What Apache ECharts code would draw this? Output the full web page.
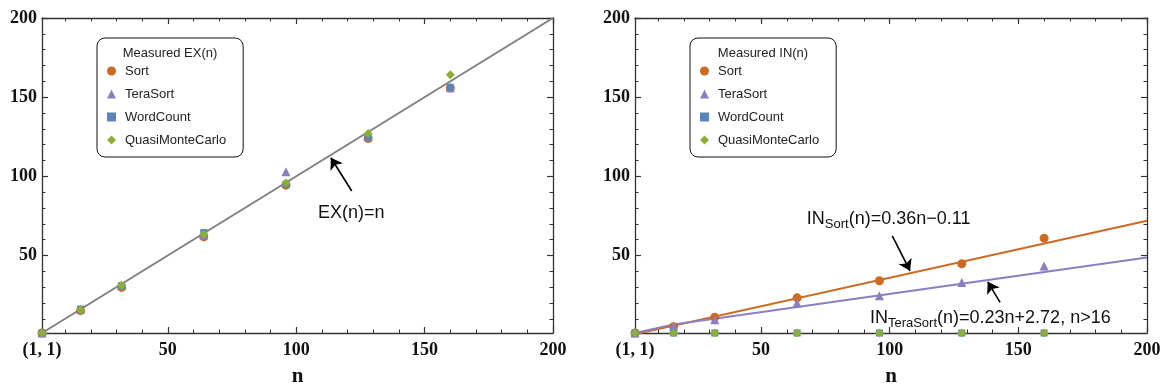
<!DOCTYPE html>
<html>
<head>
<meta charset="utf-8">
<script src="https://cdn.jsdelivr.net/npm/echarts@6/dist/echarts.min.js"></script>
<style>
html,body{margin:0;padding:0;background:#fff;}
#main{width:1166px;height:392px;}
</style>
</head>
<body>
<div id="main"></div>
<script>
// ---- data ----
const nVals = [1, 16, 32, 64, 96, 128, 160];
const seriesNames = ['Sort', 'TeraSort', 'WordCount', 'QuasiMonteCarlo'];
// Measured EX(n)
const exSort = [1, 15.1, 29.8, 61.7, 94.4, 123.9, 155.8];
const exTera = [1, 16.0, 31.0, 63.0, 102.9, 125.0, 156.0];
const exWord = [1, 16.1, 31.0, 64.5, 95.0, 124.9, 156.2];
const exQuasi = [1, 15.6, 31.2, 63.4, 95.7, 127.0, 164.2];
// Measured IN(n)
const inSort = [1, 5.0, 10.9, 23.2, 34.0, 44.7, 60.9];
const inTera = [1, 5.2, 9.4, 19.9, 24.5, 32.9, 43.4];
const inWord = [1, 1, 1, 1, 1, 1, 1];
const inQuasi = [1, 1, 1, 1, 1, 1, 1];
// fitted lines (endpoints)
const exLine = [[1, 1], [200, 200]];
const inSortFit = [[1, 0.25], [200, 71.89]];
const inTeraFit = [[1, 1], [16, 6.4], [200, 48.72]];
// tick values
const majorTicks = [50, 100, 150, 200];
const xLabelVals = [1, 50, 100, 150, 200];
const minorTicks = [10, 20, 30, 40, 60, 70, 80, 90, 110, 120, 130, 140, 160, 170, 180, 190];
// annotation arrows & labels (data coords)
const exArrow = [[121.6, 90.7], [113.5, 111.7]];
const inSortArrow = [[101, 62.3], [107.9, 40.3]];
const inTeraArrow = [[142.9, 20.3], [138.1, 33.3]];
const exLabelPos = [108.5, 78];
const inSortLabelPos = [67.8, 74.3];
const inTeraLabelPos = [92.3, 11.9];

const colors = {Sort: '#CD6A22', TeraSort: '#8C7EC0', WordCount: '#5B84BA', QuasiMonteCarlo: '#8CB036'};
const symbols = {Sort: 'circle', TeraSort: 'triangle', WordCount: 'rect', QuasiMonteCarlo: 'diamond'};
const sizes = {Sort: 9, TeraSort: 9, WordCount: 7, QuasiMonteCarlo: 9};

const serif = '"Liberation Serif", "Times New Roman", serif';
const sans = '"Liberation Sans", Arial, sans-serif';
const frameColor = '#333';

const chart = echarts.init(document.getElementById('main'));

function makeAxes(g) {
  const base = {type: 'value', gridIndex: g, min: 1, max: 200, splitLine: {show: false}};
  const line = {show: true, lineStyle: {color: frameColor, width: 1.3}};
  const xs = [
    Object.assign({}, base, {
      position: 'bottom', axisLine: line,
      axisTick: {show: true, inside: true, length: 6, customValues: majorTicks, lineStyle: {color: frameColor, width: 1.2}},
      axisLabel: {show: true, customValues: xLabelVals, margin: 8, fontFamily: serif, fontWeight: 'bold', fontSize: 18, color: '#111',
        formatter: v => v === 1 ? '(1, 1)' : String(v)},
      name: 'n', nameLocation: 'middle', nameGap: 33,
      nameTextStyle: {fontFamily: serif, fontWeight: 'bold', fontSize: 21, color: '#111'}
    }),
    Object.assign({}, base, {
      position: 'bottom', axisLine: {show: false},
      axisTick: {show: true, inside: true, length: 3.5, customValues: minorTicks, lineStyle: {color: frameColor, width: 1}},
      axisLabel: {show: false}
    }),
    Object.assign({}, base, {
      position: 'top', axisLine: line,
      axisTick: {show: true, inside: true, length: 6, customValues: majorTicks, lineStyle: {color: frameColor, width: 1.2}},
      axisLabel: {show: false}
    }),
    Object.assign({}, base, {
      position: 'top', axisLine: {show: false},
      axisTick: {show: true, inside: true, length: 3.5, customValues: minorTicks, lineStyle: {color: frameColor, width: 1}},
      axisLabel: {show: false}
    })
  ];
  const ys = [
    Object.assign({}, base, {
      position: 'left', axisLine: line,
      axisTick: {show: true, inside: true, length: 6, customValues: majorTicks, lineStyle: {color: frameColor, width: 1.2}},
      axisLabel: {show: true, customValues: majorTicks, margin: 5, fontFamily: serif, fontWeight: 'bold', fontSize: 18, color: '#111'}
    }),
    Object.assign({}, base, {
      position: 'left', axisLine: {show: false},
      axisTick: {show: true, inside: true, length: 3.5, customValues: minorTicks, lineStyle: {color: frameColor, width: 1}},
      axisLabel: {show: false}
    }),
    Object.assign({}, base, {
      position: 'right', axisLine: line,
      axisTick: {show: true, inside: true, length: 6, customValues: majorTicks, lineStyle: {color: frameColor, width: 1.2}},
      axisLabel: {show: false}
    }),
    Object.assign({}, base, {
      position: 'right', axisLine: {show: false},
      axisTick: {show: true, inside: true, length: 3.5, customValues: minorTicks, lineStyle: {color: frameColor, width: 1}},
      axisLabel: {show: false}
    })
  ];
  return {xs, ys};
}

const a0 = makeAxes(0), a1 = makeAxes(1);

function pts(vals) { return nVals.map((n, i) => [n, vals[i]]); }

function scatter(name, vals, g) {
  return {
    type: 'scatter', name: name, xAxisIndex: g * 4, yAxisIndex: g * 4,
    data: pts(vals), symbol: symbols[name], symbolSize: sizes[name],
    itemStyle: {color: colors[name], opacity: 1}, z: 5, silent: true
  };
}

function arrow(a) {
  return {
    silent: true, symbol: ['none', 'arrow'], symbolSize: 11,
    lineStyle: {color: '#000', width: 1.6, type: 'solid'},
    itemStyle: {color: '#000'},
    label: {show: false},
    emphasis: {disabled: true},
    data: [[{coord: a[0], symbol: 'none'}, {coord: a[1], symbol: 'arrow', symbolSize: 11}]]
  };
}

function textMark(pos, text, rich) {
  return {
    silent: true, symbol: 'circle', symbolSize: 0,
    data: [{coord: pos, value: 0}],
    label: {show: true, position: 'right', distance: 0, formatter: text, rich: rich,
      fontFamily: sans, fontSize: 18, color: '#111'}
  };
}

const rich = {
  m: {fontFamily: sans, fontSize: 18, color: '#111', lineHeight: 22, verticalAlign: 'bottom'},
  s: {fontFamily: sans, fontSize: 13, color: '#111', lineHeight: 22, verticalAlign: 'bottom', padding: [0, 0, -3, 0]}
};

function legend(left, top) {
  return {
    left: left, top: top, orient: 'vertical',
    padding: [25, 17, 9, 10], itemGap: 7, itemWidth: 9, itemHeight: 9,
    borderColor: '#111', borderWidth: 1, borderRadius: 8, backgroundColor: '#fff',
    textStyle: {fontFamily: sans, fontSize: 13, color: '#222', lineHeight: 16, padding: [0, 0, 0, 4]},
    data: seriesNames.map(n => ({name: n, icon: symbols[n]})),
    selectedMode: false
  };
}

const option = {
  backgroundColor: '#fff',
  animation: false,
  grid: [
    {left: 42, top: 18, width: 511, height: 316},
    {left: 635, top: 18, width: 512, height: 316}
  ],
  xAxis: a0.xs.concat(a1.xs),
  yAxis: a0.ys.concat(a1.ys),
  title: [
    {text: 'Measured EX(n)', left: 170, top: 47, textAlign: 'center', padding: 0,
      textStyle: {fontFamily: sans, fontSize: 13, fontWeight: 'normal', color: '#222'}},
    {text: 'Measured IN(n)', left: 763, top: 47, textAlign: 'center', padding: 0,
      textStyle: {fontFamily: sans, fontSize: 13, fontWeight: 'normal', color: '#222'}}
  ],
  legend: [legend(97, 38), legend(690, 38)],
  series: [
    {type: 'line', name: 'EX(n)=n', xAxisIndex: 0, yAxisIndex: 0, data: exLine, symbol: 'none',
      lineStyle: {color: '#808080', width: 2}, z: 3, silent: true,
      markLine: arrow(exArrow),
      markPoint: textMark(exLabelPos, '{m|EX(n)=n}', rich)},
    scatter('Sort', exSort, 0),
    scatter('TeraSort', exTera, 0),
    scatter('WordCount', exWord, 0),
    scatter('QuasiMonteCarlo', exQuasi, 0),
    {type: 'line', name: 'IN_Sort fit', xAxisIndex: 4, yAxisIndex: 4, data: inSortFit, symbol: 'none',
      lineStyle: {color: colors.Sort, width: 2}, z: 3, silent: true, clip: true,
      markLine: arrow(inSortArrow),
      markPoint: textMark(inSortLabelPos, '{m|IN}{s|Sort}{m|(n)=0.36n\u22120.11}', rich)},
    {type: 'line', name: 'IN_TeraSort fit', xAxisIndex: 4, yAxisIndex: 4, data: inTeraFit, symbol: 'none',
      lineStyle: {color: colors.TeraSort, width: 2}, z: 3, silent: true, clip: true,
      markLine: arrow(inTeraArrow),
      markPoint: textMark(inTeraLabelPos, '{m|IN}{s|TeraSort}{m|(n)=0.23n+2.72, n>16}', rich)},
    scatter('Sort', inSort, 1),
    scatter('TeraSort', inTera, 1),
    scatter('WordCount', inWord, 1),
    scatter('QuasiMonteCarlo', inQuasi, 1)
  ]
};
chart.setOption(option);
</script>
</body>
</html>
